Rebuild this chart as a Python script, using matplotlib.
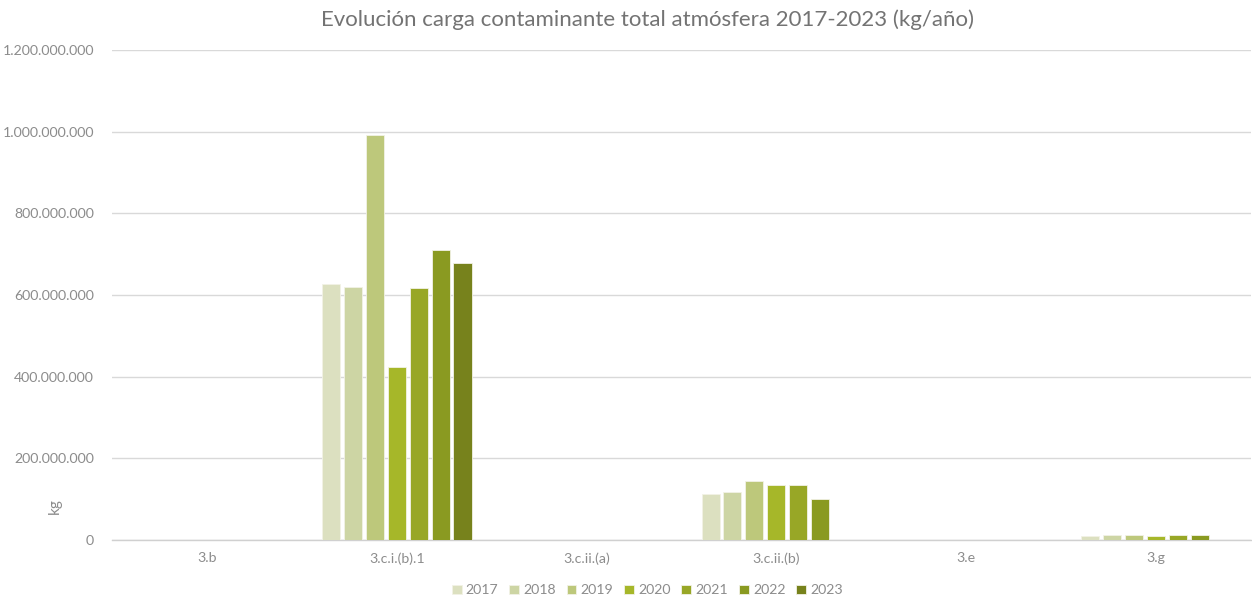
import matplotlib
matplotlib.use("Agg")
import matplotlib.pyplot as plt
import numpy as np
from matplotlib.ticker import FuncFormatter

categories = ["3.b", "3.c.i.(b).1", "3.c.ii.(a)", "3.c.ii.(b)", "3.e", "3.g"]
years = ["2017", "2018", "2019", "2020", "2021", "2022", "2023"]

# kg per year for each category (None = no data for that year)
v2017 = [0, 627e6, 0, 113e6, 0, 10e6]
v2018 = [0, 620e6, 0, 118e6, 0, 12e6]
v2019 = [0, 992e6, 0, 145e6, 0, 12e6]
v2020 = [0, 424e6, 0, 135e6, 0, 10e6]
v2021 = [0, 617e6, 0, 135e6, 0, 12e6]
v2022 = [0, 710e6, 0, 100e6, 0, 12e6]
v2023 = [0, 678e6, 0, None, 0, None]
series = [v2017, v2018, v2019, v2020, v2021, v2022, v2023]

colors = ["#DCE0C0", "#CDD5A4", "#BDC87B", "#A6B729", "#98A726", "#8A9A21", "#77821C"]

plt.rcParams["font.family"] = ["Lato", "DejaVu Sans"]

fig = plt.figure(figsize=(12.52, 6.01), dpi=100)
ax = fig.add_axes([0.0895, 0.1015, 0.9095, 0.8153])

slot = 0.1155
width = 0.095
x = np.arange(len(categories))
for i, (vals, col, yr) in enumerate(zip(series, colors, years)):
    offs = (i - (len(series) - 1) / 2) * slot
    h = [v if v is not None else 0 for v in vals]
    ax.bar(x + offs, h, width=width, color=col, edgecolor="#F2F2E6",
           linewidth=0.6, label=yr, zorder=3)

ax.set_xlim(-0.5, len(categories) - 0.5)
ax.set_ylim(0, 1.2e9)
ax.set_yticks(np.arange(0, 1.2e9 + 1, 2e8))
ax.yaxis.set_major_formatter(FuncFormatter(lambda v, p: f"{int(v):,}".replace(",", ".")))
ax.set_xticks(x)
ax.set_xticklabels(categories)

ax.grid(axis="y", color="#D9D9D9", linewidth=1.0, zorder=0)
for s in ["top", "right", "left"]:
    ax.spines[s].set_visible(False)
ax.spines["bottom"].set_color("#D0D0D0")
ax.spines["bottom"].set_linewidth(1.0)
ax.tick_params(axis="both", length=0, labelsize=10.2, colors="#8C8C8C")
ax.tick_params(axis="y", pad=13)
ax.tick_params(axis="x", pad=9)

ax.text(-0.05, 0.07, "kg", transform=ax.transAxes, rotation=90,
        ha="center", va="center", fontsize=11, color="#8C8C8C")

fig.suptitle("Evolución carga contaminante total atmósfera 2017-2023 (kg/año)",
             x=0.517, y=0.985, fontsize=16, color="#737373")

leg = ax.legend(loc="center", bbox_to_anchor=(0.47, -0.103), ncol=7, frameon=False,
                fontsize=10.2, handlelength=0.7, handleheight=0.7, handletextpad=0.3,
                columnspacing=0.75, labelcolor="#8C8C8C")

fig.savefig("out.png", dpi=100)
